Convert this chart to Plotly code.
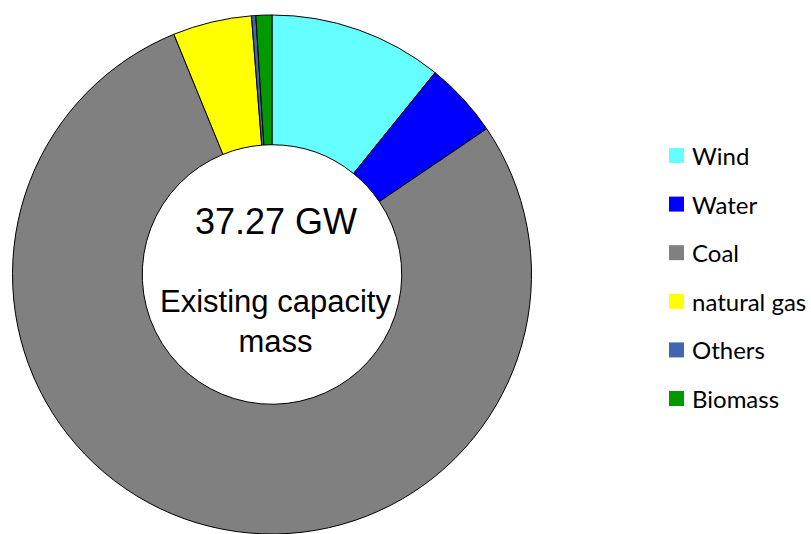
import plotly.graph_objects as go

# Installed capacity by source (GW), total 37.27 GW
labels = ["Wind", "Water", "Coal", "natural gas", "Others", "Biomass"]
values = [4.03, 1.75, 29.19, 1.83, 0.10, 0.37]
colors = ["#66FFFF", "#0000FF", "#808080", "#FFFF00", "#3F66AE", "#009900"]

total_text = "37.27 GW"
center_text = "Existing capacity<br>mass"

W, H = 811, 534

def px(x):
    return x / W

def py(y):
    return 1 - y / H

fig = go.Figure()
fig.add_trace(go.Pie(
    labels=labels,
    values=values,
    marker=dict(colors=colors, line=dict(color="#000000", width=1)),
    hole=0.5,
    sort=False,
    direction="clockwise",
    rotation=0,
    textinfo="none",
    hoverinfo="label+value+percent",
    showlegend=False,
    domain=dict(x=[px(12), px(532)], y=[0, py(15)]),
))

# Centre labels
fig.add_annotation(text=total_text, x=px(275.5), y=py(221), xref="paper", yref="paper",
                   showarrow=False, xanchor="center", yanchor="middle",
                   font=dict(family="Liberation Sans, Arial", size=36, color="#000000"))
fig.add_annotation(text=center_text, x=px(275.5), y=py(321), xref="paper", yref="paper",
                   showarrow=False, xanchor="center", yanchor="middle",
                   font=dict(family="Liberation Sans, Arial", size=31, color="#000000"))

# Legend built from the same label / colour lists
row0, row_gap = 155.5, 48.6
for i, (lab, col) in enumerate(zip(labels, colors)):
    yc = row0 + i * row_gap
    fig.add_shape(type="rect", xref="paper", yref="paper",
                  x0=px(669), x1=px(684), y0=py(yc - 7.5), y1=py(yc + 7.5),
                  fillcolor=col, line=dict(width=0))
    fig.add_annotation(text=lab, x=px(690), y=py(yc), xref="paper", yref="paper",
                       showarrow=False, xanchor="left", yanchor="middle",
                       font=dict(family="Lato", size=24, color="#000000"))

fig.update_layout(
    width=W, height=H,
    margin=dict(l=0, r=0, t=0, b=0),
    paper_bgcolor="#FFFFFF",
    plot_bgcolor="#FFFFFF",
)

fig.write_html("out.html")
